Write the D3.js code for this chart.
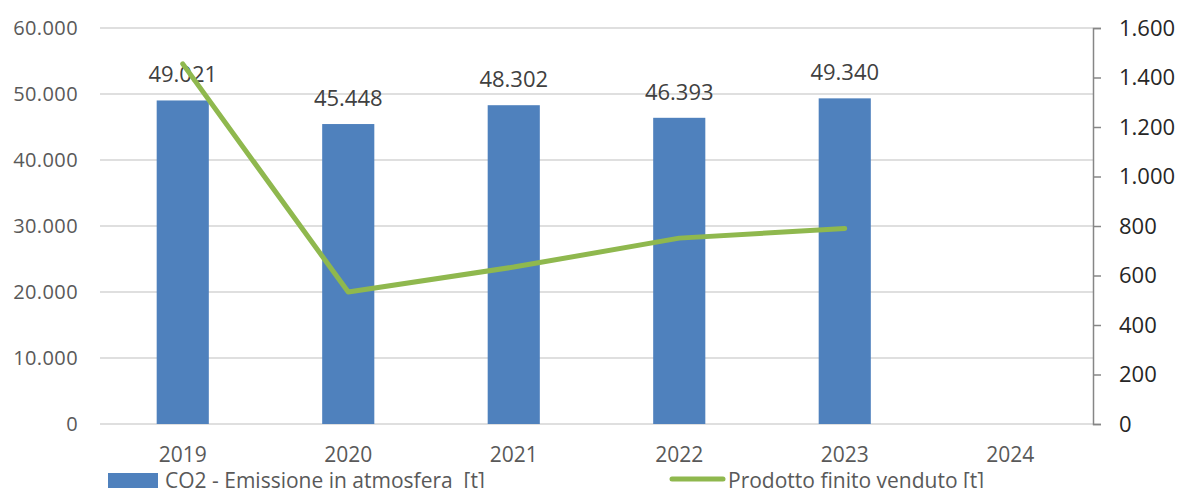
<!DOCTYPE html>
<html>
<head>
<meta charset="utf-8">
<script src="https://cdn.jsdelivr.net/npm/d3@7"></script>
<style>
  body { margin: 0; background: #fff; }
  svg { display: block; font-family: "Open Sans", sans-serif; }
</style>
</head>
<body>
<div id="chart"></div>
<script>
// data
var years = ['2019','2020','2021','2022','2023','2024'];
var co2 = [49021, 45448, 48302, 46393, 49340, null];
var prodotto = [1455, 533, 634, 751, 790, null];
var leftTicks = [0,10000,20000,30000,40000,50000,60000];
var rightTicks = [0,200,400,600,800,1000,1200,1400,1600];

var width = 1183, height = 488;
var plotLeft = 100, plotRight = 1093, plotTop = 28, plotBottom = 424;

// italian thousands separator
var fmt = d3.formatLocale({decimal: ',', thousands: '.', grouping: [3], currency: ['€','']}).format(',d');

var svg = d3.select('#chart').append('svg')
    .attr('width', width)
    .attr('height', height);

var x = d3.scaleBand().domain(years).range([plotLeft, plotRight]).padding(0);
var yL = d3.scaleLinear().domain([0, 60000]).range([plotBottom, plotTop]);
var yR = d3.scaleLinear().domain([0, 1600]).range([plotBottom, plotTop]);
var barW = x.bandwidth() * 0.315;

// gridlines
svg.append('g').selectAll('line').data(leftTicks).enter().append('line')
    .attr('x1', plotLeft).attr('x2', plotRight)
    .attr('y1', function(d){ return yL(d); })
    .attr('y2', function(d){ return yL(d); })
    .style('stroke', '#d4d4d4')
    .style('stroke-width', 1.5);

// left axis labels
svg.append('g').selectAll('text').data(leftTicks).enter().append('text')
    .attr('x', 78)
    .attr('y', function(d){ return yL(d) + 7; })
    .attr('text-anchor', 'end')
    .style('font-size', '20px')
    .style('letter-spacing', '0.4px')
    .style('fill', '#595959')
    .text(function(d){ return fmt(d); });

// right axis
var rAxis = d3.axisRight(yR).tickValues(rightTicks).tickSize(8).tickPadding(18)
    .tickFormat(function(d){ return fmt(d); });
var gR = svg.append('g')
    .attr('transform', 'translate(' + plotRight + ',0)')
    .call(rAxis);
gR.select('.domain').style('stroke', '#868686').style('stroke-width', 1.5);
gR.selectAll('.tick line').style('stroke', '#868686').style('stroke-width', 1.5);
gR.selectAll('.tick text')
    .style('font-size', '22px')
    .style('fill', '#262626')
    .style('font-family', '"Open Sans", sans-serif');

// bars
var barData = years.map(function(y, i){ return {year: y, v: co2[i]}; })
    .filter(function(d){ return d.v != null; });

svg.append('g').selectAll('rect').data(barData).enter().append('rect')
    .attr('x', function(d){ return x(d.year) + x.bandwidth()/2 - barW/2; })
    .attr('y', function(d){ return yL(d.v); })
    .attr('width', barW)
    .attr('height', function(d){ return plotBottom - yL(d.v); })
    .style('fill', '#4f81bd');

// bar value labels
svg.append('g').selectAll('text').data(barData).enter().append('text')
    .attr('x', function(d){ return x(d.year) + x.bandwidth()/2; })
    .attr('y', function(d){ return yL(d.v) - 18; })
    .attr('text-anchor', 'middle')
    .style('font-size', '22px')
    .style('fill', '#404040')
    .text(function(d){ return fmt(d.v); });

// line
var lineData = years.map(function(y, i){ return {year: y, v: prodotto[i]}; })
    .filter(function(d){ return d.v != null; });
var line = d3.line()
    .x(function(d){ return x(d.year) + x.bandwidth()/2; })
    .y(function(d){ return yR(d.v); });
svg.append('path')
    .datum(lineData)
    .attr('d', line)
    .style('fill', 'none')
    .style('stroke', '#8fb84e')
    .style('stroke-width', 5)
    .style('stroke-linejoin', 'round')
    .style('stroke-linecap', 'round');

// x labels
svg.append('g').selectAll('text').data(years).enter().append('text')
    .attr('x', function(d){ return x(d) + x.bandwidth()/2; })
    .attr('y', 462)
    .attr('text-anchor', 'middle')
    .style('font-size', '21px')
    .style('fill', '#595959')
    .text(function(d){ return d; });

// legend (cut at the bottom edge, as in the source)
svg.append('rect')
    .attr('x', 108).attr('y', 473).attr('width', 50).attr('height', 20)
    .style('fill', '#4f81bd');
svg.append('text')
    .attr('x', 165).attr('y', 488)
    .style('font-size', '21px')
    .style('fill', '#595959')
    .style('white-space', 'pre')
    .text('CO2 - Emissione in atmosfera  [t]');
svg.append('line')
    .attr('x1', 672).attr('x2', 723).attr('y1', 479).attr('y2', 479)
    .style('stroke', '#8fb84e')
    .style('stroke-width', 5)
    .style('stroke-linecap', 'round');
svg.append('text')
    .attr('x', 728).attr('y', 488)
    .style('font-size', '21px')
    .style('fill', '#595959')
    .text('Prodotto finito venduto [t]');
</script>
</body>
</html>
